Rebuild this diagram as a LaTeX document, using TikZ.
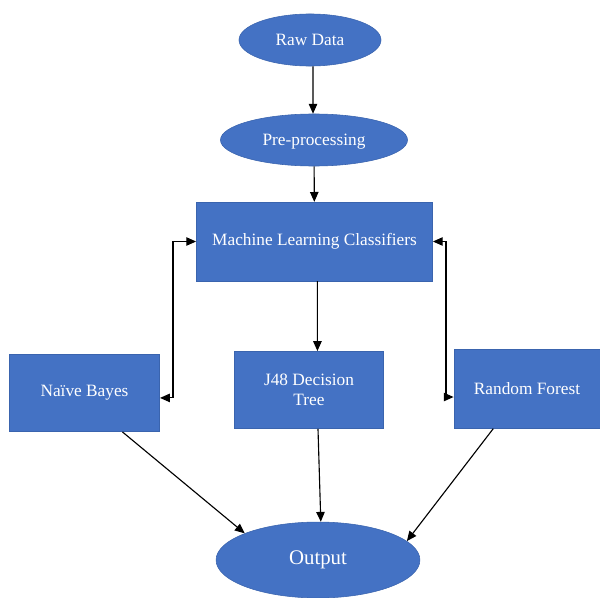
\documentclass[tikz,border=0pt]{standalone}
\usepackage{fontspec}
\setmainfont{Liberation Serif}
\usetikzlibrary{arrows.meta,shapes.geometric}
\definecolor{wordblue}{HTML}{4472C4}
\definecolor{wordedge}{HTML}{3A64AE}
\tikzset{
  blob/.style={ellipse, fill=wordblue, draw=wordedge, text=white, inner sep=0pt},
  box/.style={rectangle, fill=wordblue, draw=wordedge, text=white, align=center},
  link/.style={-{Triangle[length=7pt,width=6pt]}, line width=0.8pt},
  duallink/.style={{Triangle[length=7pt,width=6pt]}-{Triangle[length=7pt,width=6pt]}, line width=0.8pt}
}
\begin{document}
\begin{tikzpicture}[x=0.025cm,y=-0.025cm, font=\fontsize{12.3}{14.5}\selectfont]
\useasboundingbox (0,0) rectangle (600,598);
\node[blob, minimum width=101pt, minimum height=37pt] (raw) at (310,40){Raw Data};
\node[blob, minimum width=133pt, minimum height=37pt, text depth=1pt] (pre) at (314,140){Pre-processing};
\node[box, minimum width=168pt, minimum height=56pt] (ml) at (314.5,241.5){Machine Learning Classifiers};
\node[box, minimum width=107pt, minimum height=55pt] (nb) at (84.5,393){Naïve Bayes};
\node[box, minimum width=106pt, minimum height=55pt] (j48) at (309,390){J48 Decision\\Tree};
\node[box, minimum width=104pt, minimum height=56pt] (rf) at (527,389){Random Forest};
\node[blob, minimum width=145pt, minimum height=54pt, font=\fontsize{14.8}{17}\selectfont] (out) at (318,560){Output};
\coordinate (lbend) at (173,241.5);
\coordinate (rbend) at (446,241.5);
\draw[link]([xshift=2.1pt]raw.south) -- ([xshift=-0.7pt]pre.north);
\draw[link](pre) -- (ml);
\draw[link]([xshift=2pt]ml.south) -- ([xshift=6pt]j48.north);
\draw[duallink]([yshift=-3.5pt]nb.east) -| (lbend) -- (ml.west);
\draw[duallink](ml.east) -- (rbend) |- ([yshift=-5.7pt]rf.west);
\draw[link]([xshift=27pt]nb.south) -- (out.160);
\draw[link]([xshift=6.4pt]j48.south) -- ([xshift=2pt]out.north);
\draw[link]([xshift=-24pt]rf.south) -- (out.12);

\end{tikzpicture}
\end{document}
